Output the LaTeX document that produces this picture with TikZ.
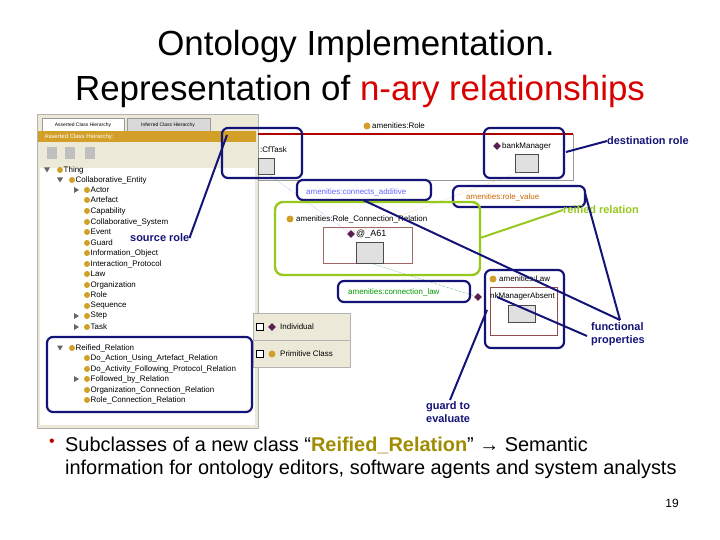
\documentclass[tikz,border=0pt]{standalone}
\usepackage{fontspec}
\setmainfont{Liberation Sans}
\usetikzlibrary{shapes.geometric}
\definecolor{navy}{RGB}{20,20,120}
\definecolor{lime}{RGB}{150,200,30}
\definecolor{gold}{RGB}{210,160,40}
\definecolor{plum}{RGB}{90,30,80}
\definecolor{pane}{RGB}{236,233,216}
\definecolor{olive}{RGB}{160,140,0}
\tikzset{
 hl/.style={draw=navy,line width=2.2pt,rounded corners=6pt},
 pointer/.style={draw=navy,line width=2pt},
 callout/.style={font=\bfseries\fontsize{11}{13}\selectfont,text=navy,inner sep=0pt},
 tree/.style={font=\fontsize{8}{8}\selectfont,anchor=west,inner sep=0pt},
 cls/.style={circle,fill=gold,inner sep=0pt,minimum size=7pt},
 ind/.style={diamond,fill=plum,inner sep=0pt,minimum size=8pt},
 small/.style={font=\fontsize{8}{9}\selectfont,inner sep=0pt,anchor=west},
 slot/.style={draw=black!70,fill=black!12},
}
\begin{document}
\begin{tikzpicture}[x=1bp,y=-1bp]
\useasboundingbox (0,0) rectangle (720,540);
\fill[white] (0,0) rectangle (720,540);
% title
\node[font=\fontsize{35}{38}\selectfont] (t1) at (356,46) {Ontology Implementation.};
\node[font=\fontsize{35}{38}\selectfont] (t2) at (360,91) {Representation of \textcolor{red!85!black}{n-ary relationships}};
% screenshot
\fill[white] (36,110) rectangle (700,430);
\draw[black!30,fill=pane] (37,114) rectangle (258,428);
\fill[white] (40,168) rectangle (255,425);
\draw[black!40,fill=white] (42,118) rectangle (124,131);
\draw[black!40,fill=black!15] (127,118) rectangle (210,131);
\node[font=\fontsize{5}{6}\selectfont] (tab1) at (83,125) {Asserted Class Hierarchy};
\node[font=\fontsize{5}{6}\selectfont] (tab2) at (168,125) {Inferred Class Hierarchy};
\fill[gold] (38,131) rectangle (256,142);
\node[font=\fontsize{6}{7}\selectfont,text=white,anchor=west] (hdr) at (41,136.5) {Asserted Class Hierarchy:};
\foreach \x in {52,70,90}{\fill[black!25] (\x-5,147) rectangle (\x+5,159);}
% tree
\foreach \y/\ix/\t in {170/60/Thing,180/72/Collaborative\_Entity,190/87/Actor,200/87/Artefact,211/87/Capability,222/87/Collaborative\_System,232/87/Event,243/87/Guard,253/87/Information\_Object,264/87/Interaction\_Protocol,274/87/Law,285/87/Organization,295/87/Role,306/87/Sequence,316/87/Step,327/87/Task,348/72/Reified\_Relation,358/87/Do\_Action\_Using\_Artefact\_Relation,369/87/Do\_Activity\_Following\_Protocol\_Relation,379/87/Followed\_by\_Relation,390/87/Organization\_Connection\_Relation,400/87/Role\_Connection\_Relation}{
 \node[cls,minimum size=6pt] at (\ix,\y) {};
 \node[tree] at (\ix+3.5,\y) {\t};
}
\foreach \y/\x in {170/47,180/60,348/60}{\fill[black!60] (\x-3,\y-2.5) -- (\x+3,\y-2.5) -- (\x,\y+2.5) -- cycle;}
\foreach \y in {190,316,327,379}{\fill[black!60] (74,\y-3) -- (79,\y) -- (74,\y+3) -- cycle;}
% right pane
\node[cls] (rolec) at (367,126) {};
\node[small] (rolet) at (372,126) {amenities:Role};
\draw[black!40] (258,134) rectangle (573,180);
\draw[red!70!black,line width=1.2pt] (258,134) -- (573,134);
\node[small] (cft) at (260,150) {:CfTask};
\draw[slot] (258,158) rectangle (274,174);
\node[ind] (bmd) at (497,146) {};
\node[small] (bmt) at (502,146) {bankManager};
\draw[slot] (515,154) rectangle (538,172);
% reified relation
\node[cls] (rcc) at (290,219) {};
\node[small] (rct) at (296,219) {amenities:Role\_Connection\_Relation};
\draw[red!40!black!60,fill=white] (323,227) rectangle (412,263);
\node[ind] (a61d) at (351,234) {};
\node[small,font=\fontsize{9}{10}\selectfont] (a61t) at (356,234) {@\_A61};
\draw[slot] (356,242) rectangle (383,263);
% law
\node[cls] (lawc) at (493,279) {};
\node[small] (lawt) at (499,279) {amenities:Law};
\draw[red!40!black!70,fill=white] (490,287) rectangle (557,335);
\node[small] (lawi) at (490,296) {nkManagerAbsent};
\node[ind] (lawd) at (478,297) {};
\draw[slot] (508,305) rectangle (535,322);
% thin relation lines
\draw[blue!50,densely dotted] (268,174) -- (a61d);
\draw[orange!70,densely dotted] (520,172) -- (a61d);
\draw[green!50!black,densely dotted] (370,263) -- (lawd);
% legend
\draw[black!30,fill=pane] (253,313) rectangle (350,367);
\draw[black!30] (253,340) -- (350,340);
\draw[fill=white] (256,323) rectangle (263,330);
\draw[fill=white] (256,350) rectangle (263,357);
\node[ind] (lgd) at (272,327) {};
\node[small] (lgt) at (280,327) {Individual};
\node[cls] (lgc) at (272,354) {};
\node[small] (lgct) at (280,354) {Primitive Class};
% property labels
\node[small,text=blue!60] (cadd) at (306,192) {amenities:connects\_additive};
\node[small,text=orange!80!black] (rval) at (466,197) {amenities:role\_value};
\node[small,text=green!60!black] (claw) at (348,292) {amenities:connection\_law};
% highlights
\draw[hl] (222,128) rectangle (302,178);
\draw[hl] (484,128) rectangle (564,178);
\draw[hl] (297,180) rectangle (431,200);
\draw[hl] (453,186) rectangle (585,207);
\draw[hl] (338,281) rectangle (470,302);
\draw[hl] (485,270) rectangle (564,348);
\draw[hl] (47,337) rectangle (252,412);
\draw[draw=lime,line width=2.4pt,rounded corners=8pt] (275,202) rectangle (480,275);
% callouts
\node[callout,anchor=west] (src) at (130,238) {source role};
\node[callout,anchor=west] (dst) at (607,141) {destination role};
\node[callout,anchor=west,text=lime] (rei) at (563,210) {reified relation};
\node[callout,align=left,anchor=north west] (fun) at (591,322) {functional\\properties};
\node[callout,align=left,anchor=north west] (gua) at (426,401) {guard to\\evaluate};
\coordinate (p1) at (227,135);
\draw[pointer] (src.east) -- (p1);
\draw[pointer] (566,152) -- (dst.west);
\draw[draw=lime,line width=2pt] (480,238) -- (rei.west);
\coordinate (fp) at (620,320);
\draw[pointer] (363,200) -- (fp);
\draw[pointer] (585,193) -- (fp);
\draw[pointer] (497,297) -- (587,336);
\draw[pointer] (450,400) -- (487,310);
% bullet text
\node[font=\fontsize{16}{18}\selectfont,text=red!70!black] (bul) at (52,443) {•};
\node[font=\fontsize{20}{22}\selectfont,anchor=west,inner sep=0pt] (b1) at (65,445) {Subclasses of a new class “\textcolor{olive}{\bfseries Reified\_Relation}” → Semantic};
\node[font=\fontsize{20}{22}\selectfont,anchor=west,inner sep=0pt] (b2) at (65,469) {information for ontology editors, software agents and system analysts};
\node[font=\fontsize{12}{14}\selectfont] (pg) at (672,503) {19};
\end{tikzpicture}
\end{document}
